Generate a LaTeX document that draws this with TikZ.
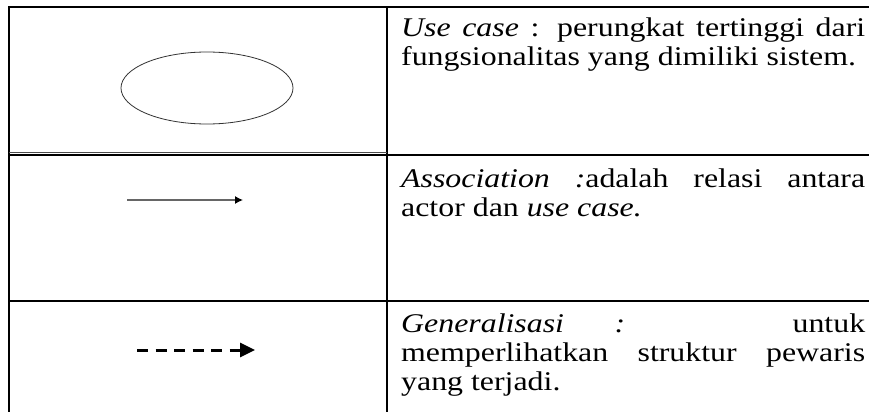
\documentclass[tikz,border=0pt]{standalone}
\usepackage{fontspec}
\newfontfamily\tablefont{Liberation Serif}[FakeStretch=1.18]
\usetikzlibrary{shapes.geometric,arrows.meta}
\hyphenpenalty=10000
\tolerance=10000
\tikzset{
  grid line/.style={line width=2pt, draw=black},
  desc/.style={anchor=base west, inner sep=0pt, text width=464pt, align=justify,
    font=\tablefont\fontsize{27}{29}\selectfont},
}
\begin{document}
\begin{tikzpicture}[x=1pt, y=-1pt]
\useasboundingbox (0,0) rectangle (869,412);
% table
\draw[grid line] (869,7) -- (9,7) -- (9,412);
\draw[grid line] (387,7) -- (387,412);
\draw[grid line] (9,155) -- (869,155);
\draw[line width=0.8pt, draw=black!70] (9,152.5) -- (387,152.5);
\draw[grid line] (9,301) -- (869,301);
% symbols
\node[shape=ellipse, draw=black!80, line width=0.8pt, minimum width=172pt, minimum height=72pt] (usecase) at (207,88) {};
\coordinate (assocStart) at (127,200);
\coordinate (assocEnd) at (243,200);
\draw[-{Latex[length=8pt,width=8pt,color=black]}, line width=1.3pt, draw=black!60] (assocStart) -- (assocEnd);
\coordinate (genStart) at (137,350);
\coordinate (genEnd) at (255,350);
\draw[-{Triangle[length=15pt,width=14pt]}, line width=3pt, dash pattern=on 11pt off 7.5pt] (genStart) -- (genEnd);
% descriptions
\node[desc] (usecaseText) at (401,37) {\textit{Use case} : perungkat tertinggi dari\linebreak fungsionalitas yang dimiliki sistem.};
\node[desc] (assocText) at (401,187) {\textit{Association :}adalah relasi antara\linebreak actor dan \textit{use case.}};
\node[desc] (genText) at (401,332) {\textit{Generalisasi}\hspace{0pt plus 1fil}\textit{:}\hspace{0pt plus 3.3fil}untuk\linebreak memperlihatkan struktur pewaris\linebreak yang terjadi.};
\end{tikzpicture}
\end{document}
